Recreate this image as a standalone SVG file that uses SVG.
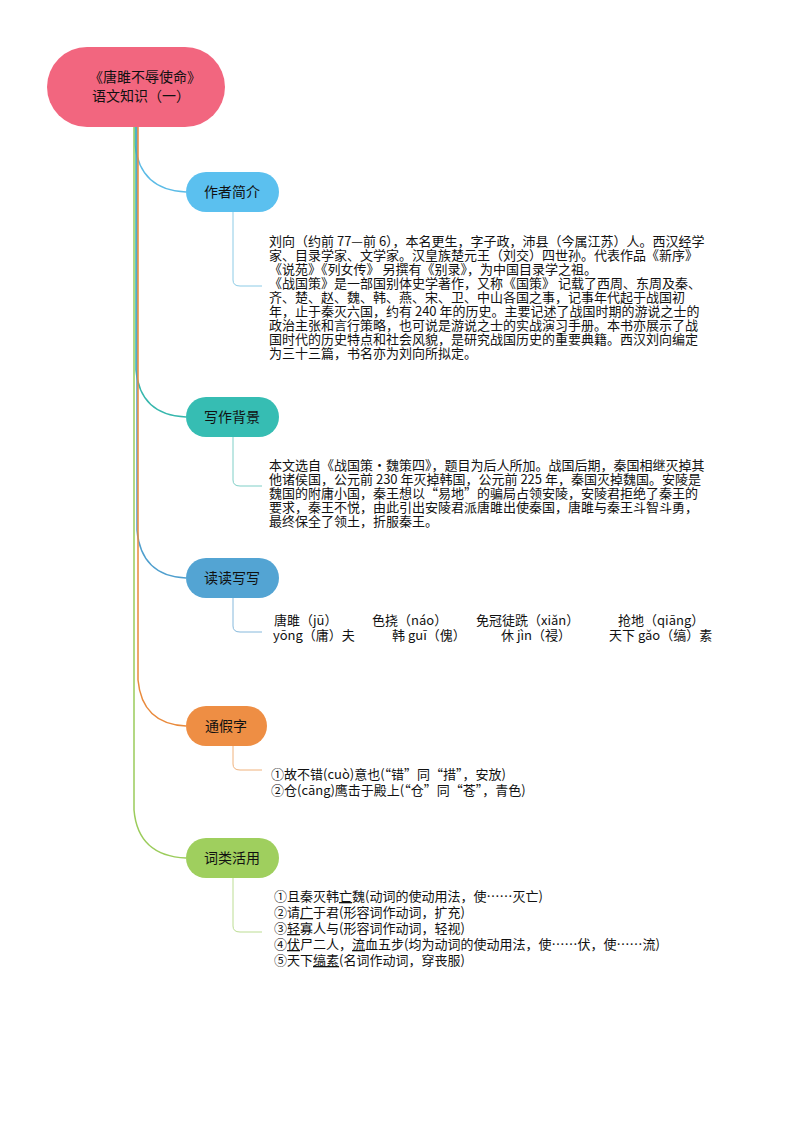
<svg xmlns="http://www.w3.org/2000/svg" width="794" height="1123" viewBox="0 0 794 1123">
<style>
text{font-family:"Noto Sans CJK SC","Liberation Sans",sans-serif;fill:#111}
.t{font-size:13px}
.n{font-size:14px;text-anchor:middle}
.c{fill:none;stroke-width:1.5}
.s{fill:none;stroke-width:1}
</style>
<rect width="794" height="1123" fill="#fff"/>
<g id="connectors">
<path class="c" stroke="#5bbbe6" d="M135,127 L135,145 Q140,190 186,192"/>
<path class="c" stroke="#36b7ad" d="M136,127 L136,370 Q140,415 186,417"/>
<path class="c" stroke="#4f9fce" d="M137,127 L137,530 Q141,576 186,578"/>
<path class="c" stroke="#e98a3c" d="M138,127 L138,680 Q142,724 186,726"/>
<path class="c" stroke="#9bcc5b" d="M134,127 L134,810 Q138,856 186,858"/>
<path class="s" stroke="#8ccbe6" d="M233,212 L233,280 Q233,286 240,286 L262,286"/>
<path class="s" stroke="#7fcfc7" d="M233,437 L233,480 Q233,486 240,486 L262,486"/>
<path class="s" stroke="#86b9dc" d="M233,598 L233,626 Q233,632 240,632 L262,632"/>
<path class="s" stroke="#f0b27d" d="M233,746 L233,764 Q233,770 240,770 L262,770"/>
<path class="s" stroke="#bcdd93" d="M233,878 L233,926 Q233,932 240,932 L262,932"/>
</g>
<g id="root"><rect x="47" y="47" width="178" height="80" rx="40" fill="#f2667f"/>
<text class="n" x="145" y="82">《唐雎不辱使命》</text><text class="n" x="141" y="101">语文知识（一）</text></g>
<g id="n1"><rect x="186" y="172" width="93" height="40" rx="20" fill="#5bc0ef"/><text class="n" x="232" y="197">作者简介</text></g>
<g id="n2"><rect x="186" y="397" width="93" height="40" rx="20" fill="#36bdb3"/><text class="n" x="232" y="422">写作背景</text></g>
<g id="n3"><rect x="186" y="558" width="93" height="40" rx="20" fill="#53a4d3"/><text class="n" x="232" y="583">读读写写</text></g>
<g id="n4"><rect x="186" y="706" width="81" height="40" rx="20" fill="#ee8e44"/><text class="n" x="226" y="731">通假字</text></g>
<g id="n5"><rect x="186" y="838" width="93" height="40" rx="20" fill="#9fcf5e"/><text class="n" x="232" y="863">词类活用</text></g>
<g id="t1">
<text class="t" x="269" y="246">刘向（约前 77—前 6），本名更生，字子政，沛县（今属江苏）人。西汉经学</text>
<text class="t" x="269" y="260">家、目录学家、文学家。汉皇族楚元王（刘交）四世孙。代表作品《新序》</text>
<text class="t" x="269" y="274">《说苑》《列女传》 另撰有《别录》，为中国目录学之祖。</text>
<text class="t" x="269" y="288">《战国策》是一部国别体史学著作，又称《国策》 记载了西周、东周及秦、</text>
<text class="t" x="269" y="302">齐、楚、赵、魏、韩、燕、宋、卫、中山各国之事，记事年代起于战国初</text>
<text class="t" x="269" y="316">年，止于秦灭六国，约有 240 年的历史。主要记述了战国时期的游说之士的</text>
<text class="t" x="269" y="330">政治主张和言行策略，也可说是游说之士的实战演习手册。本书亦展示了战</text>
<text class="t" x="269" y="344">国时代的历史特点和社会风貌，是研究战国历史的重要典籍。西汉刘向编定</text>
<text class="t" x="269" y="358">为三十三篇，书名亦为刘向所拟定。</text>
</g>
<g id="t2">
<text class="t" x="269" y="470">本文选自《战国策·魏策四》，题目为后人所加。战国后期，秦国相继灭掉其</text>
<text class="t" x="269" y="484">他诸侯国，公元前 230 年灭掉韩国，公元前 225 年，秦国灭掉魏国。安陵是</text>
<text class="t" x="269" y="498">魏国的附庸小国，秦王想以“易地”的骗局占领安陵，安陵君拒绝了秦王的</text>
<text class="t" x="269" y="512">要求，秦王不悦，由此引出安陵君派唐雎出使秦国，唐雎与秦王斗智斗勇，</text>
<text class="t" x="269" y="526">最终保全了领土，折服秦王。</text>
</g>
<g id="t3">
<text class="t" x="274" y="625">唐雎（jū）</text><text class="t" x="372" y="625">色挠（náo）</text><text class="t" x="476" y="625">免冠徒跣（xiǎn）</text><text class="t" x="618" y="625">抢地（qiāng）</text>
<text class="t" x="273" y="640">yōng（庸）夫</text><text class="t" x="392" y="640">韩 guī（傀）</text><text class="t" x="501" y="640">休 jìn（祲）</text><text class="t" x="609" y="640">天下 gǎo（缟）素</text>
</g>
<g id="t4">
<text class="t" x="271" y="779">①故不错(cuò)意也(“错”同“措”，安放)</text>
<text class="t" x="271" y="795">②仓(cāng)鹰击于殿上(“仓”同“苍”，青色)</text>
</g>
<g id="t5">
<text class="t" x="274" y="901">①且秦灭韩<tspan text-decoration="underline">亡</tspan>魏(动词的使动用法，使……灭亡)</text>
<text class="t" x="274" y="917">②请<tspan text-decoration="underline">广</tspan>于君(形容词作动词，扩充)</text>
<text class="t" x="274" y="933">③<tspan text-decoration="underline">轻</tspan>寡人与(形容词作动词，轻视)</text>
<text class="t" x="274" y="949">④<tspan text-decoration="underline">伏</tspan>尸二人，<tspan text-decoration="underline">流</tspan>血五步(均为动词的使动用法，使……伏，使……流)</text>
<text class="t" x="274" y="965">⑤天下<tspan text-decoration="underline">缟素</tspan>(名词作动词，穿丧服)</text>
</g>
</svg>
